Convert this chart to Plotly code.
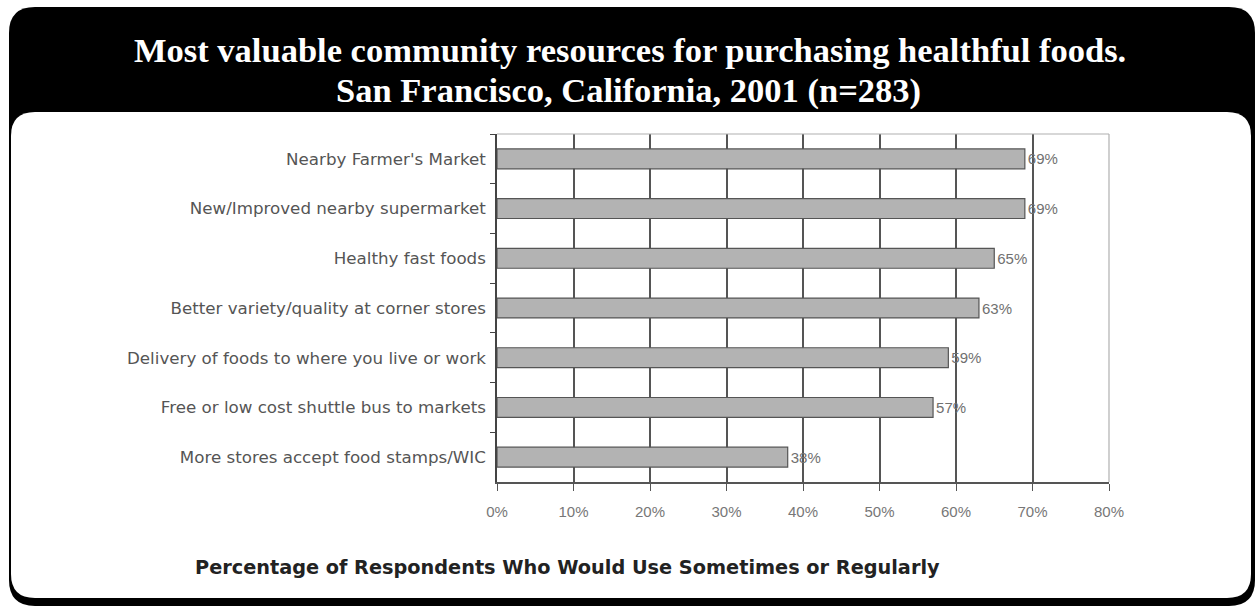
import plotly.graph_objects as go

categories = [
    "Nearby Farmer's Market",
    "New/Improved nearby supermarket",
    "Healthy fast foods",
    "Better variety/quality at corner stores",
    "Delivery of foods to where you live or work",
    "Free or low cost shuttle bus to markets",
    "More stores accept food stamps/WIC",
]
values = [69, 69, 65, 63, 59, 57, 38]
x_ticks = [0, 10, 20, 30, 40, 50, 60, 70, 80]
x_tick_labels = ["0%", "10%", "20%", "30%", "40%", "50%", "60%", "70%", "80%"]
value_labels = ["69%", "69%", "65%", "63%", "59%", "57%", "38%"]
title_lines = ["Most valuable community resources for purchasing healthful foods.",
               "San Francisco, California, 2001 (n=283)"]
axis_title = "Percentage of Respondents Who Would Use Sometimes or Regularly"

W, H = 1256, 609
L, R, T, B = 497, 1109, 134, 482


def px_x(x):
    return (x - L) / (R - L)


def px_y(y):
    return (B - y) / (B - T)


def rounded_rect(x0, y0, x1, y1, r):
    def P(x, y):
        return f"{px_x(x):.5f},{px_y(y):.5f}"
    return (f"M {P(x0 + r, y0)} L {P(x1 - r, y0)} Q {P(x1, y0)} {P(x1, y0 + r)} "
            f"L {P(x1, y1 - r)} Q {P(x1, y1)} {P(x1 - r, y1)} "
            f"L {P(x0 + r, y1)} Q {P(x0, y1)} {P(x0, y1 - r)} "
            f"L {P(x0, y0 + r)} Q {P(x0, y0)} {P(x0 + r, y0)} Z")


fig = go.Figure()
fig.add_trace(go.Bar(
    x=values, y=categories, orientation="h",
    marker=dict(color="#b3b3b3", line=dict(color="#555555", width=1.2)),
    text=value_labels, texttemplate="%{text}", textposition="outside",
    textfont=dict(family="Liberation Sans", size=15, color="#707070"),
    cliponaxis=False, showlegend=False, hoverinfo="skip",
))

shapes = [
    dict(type="path", xref="paper", yref="paper", path=rounded_rect(9, 7, 1255, 606, 26),
         fillcolor="black", line=dict(width=0), layer="below"),
    dict(type="path", xref="paper", yref="paper", path=rounded_rect(11, 112, 1251, 598, 24),
         fillcolor="white", line=dict(width=0), layer="below"),
    dict(type="line", xref="paper", yref="paper", x0=0, x1=1, y0=1, y1=1,
         line=dict(color="#b0b0b0", width=1.2), layer="above"),
    dict(type="line", xref="paper", yref="paper", x0=1, x1=1, y0=0, y1=1,
         line=dict(color="#b0b0b0", width=1.2), layer="above"),
]

annotations = [
    dict(text="<b>" + title_lines[0] + "</b>", xref="paper", yref="paper", x=px_x(630), y=px_y(50),
         showarrow=False, xanchor="center", yanchor="middle",
         font=dict(family="Liberation Serif", size=34.5, color="white")),
    dict(text="<b>" + title_lines[1] + "</b>", xref="paper", yref="paper", x=px_x(628), y=px_y(91),
         showarrow=False, xanchor="center", yanchor="middle",
         font=dict(family="Liberation Serif", size=34.5, color="white")),
    dict(text="<b>" + axis_title + "</b>", xref="paper", yref="paper", x=px_x(567), y=px_y(567),
         showarrow=False, xanchor="center", yanchor="middle",
         font=dict(family="DejaVu Sans", size=19.3, color="#222222")),
]

fig.update_layout(
    width=W, height=H,
    margin=dict(l=L, r=W - R, t=T, b=H - B, pad=0),
    paper_bgcolor="white", plot_bgcolor="rgba(0,0,0,0)",
    bargap=0.6,
    shapes=shapes, annotations=annotations,
    xaxis=dict(range=[0, 80], tickmode="array", tickvals=x_ticks, ticktext=x_tick_labels,
               showgrid=True, gridcolor="#555555", gridwidth=1.5,
               zeroline=False, showline=True, linecolor="#555555", linewidth=1.5,
               ticks="outside", ticklen=7, tickcolor="#555555", ticklabelstandoff=8,
               tickfont=dict(family="Liberation Sans", size=15, color="#777777"),
               fixedrange=True),
    yaxis=dict(autorange="reversed", type="category", tickson="boundaries",
               showgrid=False, showline=True, linecolor="#444444", linewidth=1.5,
               ticks="outside", ticklen=5, tickcolor="#444444", ticklabelstandoff=6,
               tickfont=dict(family="DejaVu Sans", size=16.7, color="#555555"),
               fixedrange=True),
    font=dict(family="Liberation Sans"),
)

fig.write_html("out.html", config={"displayModeBar": False},
               post_script="document.body.style.margin='0';")
